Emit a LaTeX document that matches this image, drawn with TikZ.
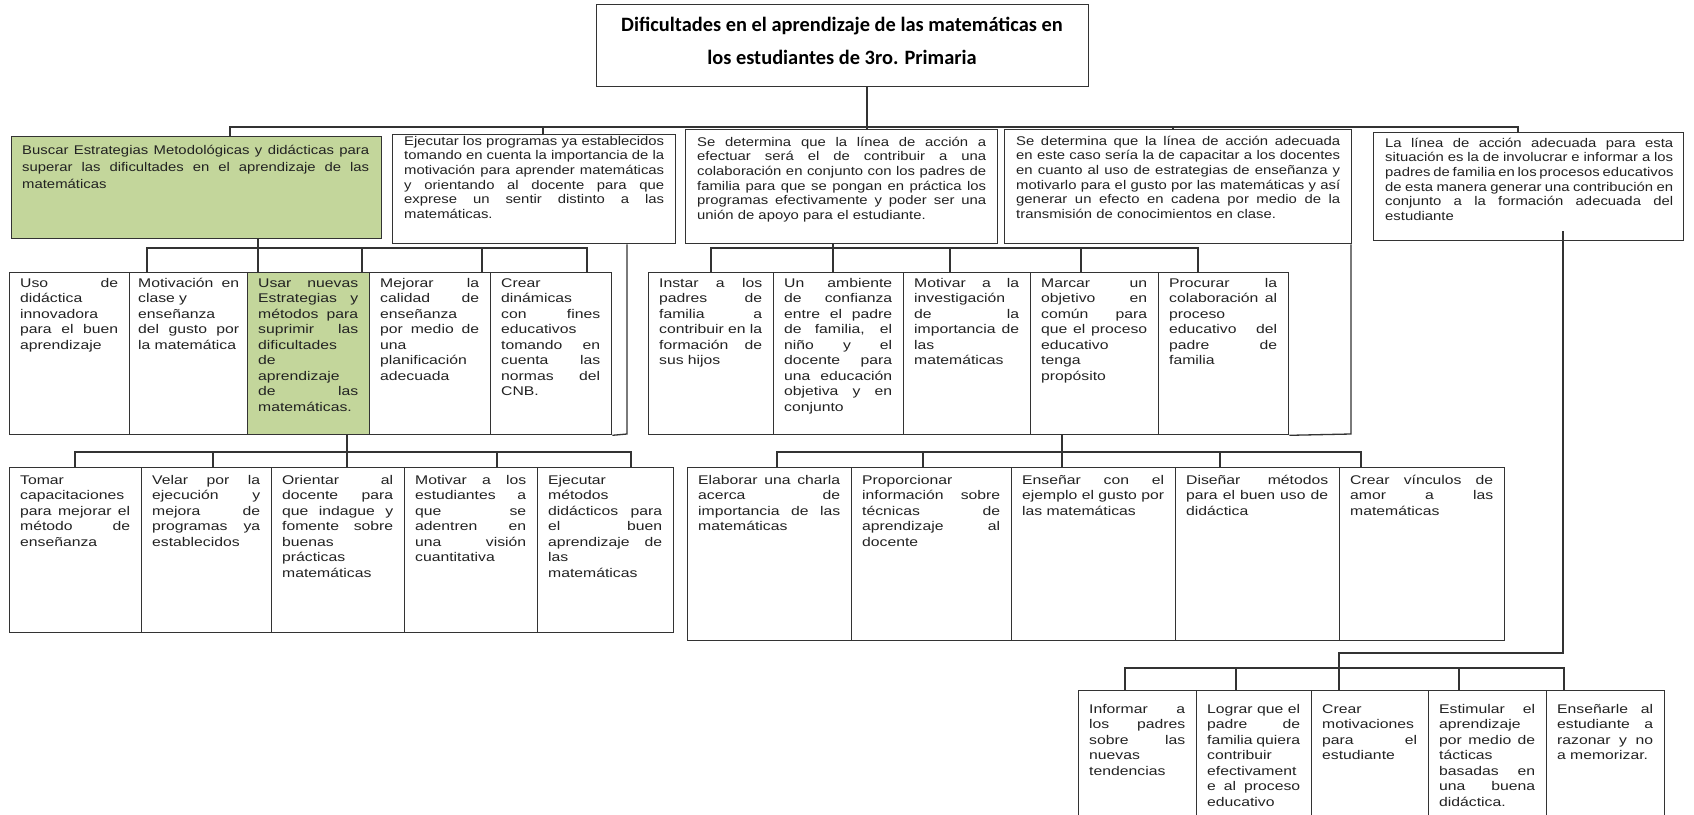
\documentclass[tikz,border=0pt]{standalone}
\usepackage{fontspec}
\setmainfont{Liberation Sans}
\newfontfamily\fa{Liberation Sans}[FakeStretch=1.18]
\newfontfamily\fb{Liberation Sans}[FakeStretch=1.25]
\newfontfamily\ttl{Carlito}
\usetikzlibrary{calc}
\definecolor{grn}{HTML}{C3D69B}
\definecolor{ln}{HTML}{333333}
\definecolor{tx}{HTML}{222222}
\newcommand\jl[1]{\makebox[\linewidth][s]{\spaceskip=0pt\xspaceskip=0pt\relax #1}\\}
\begin{document}
\begin{tikzpicture}[x=1pt,y=-1pt,
  box/.style={draw=ln, line width=1.3pt, inner sep=0pt, anchor=north west, fill=white},
  con/.style={draw=ln, line width=1.3pt},
  ttxt/.style={anchor=base, inner sep=0pt, text=black, font=\ttl\bfseries\fontsize{20.4}{25}\selectfont},
  tg/.style={anchor=north west, inner sep=0pt, align=left, text=tx, font=\fa\fontsize{12.6}{16.7}\selectfont},
  ta/.style={anchor=north west, inner sep=0pt, align=left, text=tx, font=\fa\fontsize{12.6}{14.6}\selectfont},
  tb/.style={anchor=north west, inner sep=0pt, align=left, text=tx, font=\fb\fontsize{12.6}{15.5}\selectfont}]
\useasboundingbox (0,0) rectangle (1694,814);
\clip (0,0) rectangle (1694,814);
\fill[white] (0,0) rectangle (1694,814);

% ---------- title
\node[box, minimum width=492, minimum height=82] (title) at (596,4) {};
\node[ttxt] (tt1) at (842,31) {Dificultades en el aprendizaje de las matemáticas en};
\node[ttxt] (tt2) at (842,64) {los estudiantes de 3ro. Primaria};

% ---------- row 1
\node[box, fill=grn, minimum width=370, minimum height=102] (green) at (11,136) {};
\node[box, minimum width=283, minimum height=109] (ejec) at (392,134) {};
\node[box, minimum width=312, minimum height=114] (sea) at (685,129) {};
\node[box, minimum width=347, minimum height=114] (sead) at (1004,129) {};
\node[box, minimum width=310, minimum height=108] (lin) at (1373,132) {};

\node[tg, text width=347] (greent) at (22,142.8) {\jl{\strut Buscar Estrategias Metodológicas y didácticas para}\jl{superar las dificultades en el aprendizaje de las}matemáticas};
\node[ta, text width=260] (eject) at (404,134.8) {\jl{\strut Ejecutar los programas ya establecidos}\jl{tomando en cuenta la importancia de la}\jl{motivación para aprender matemáticas}\jl{y orientando al docente para que}\jl{exprese un sentir distinto a las}matemáticas.};
\node[ta, text width=289] (seat) at (697,135.8) {\jl{\strut Se determina que la línea de acción a}\jl{efectuar será el de contribuir a una}\jl{colaboración en conjunto con los padres de}\jl{familia para que se pongan en práctica los}\jl{programas efectivamente y poder ser una}unión de apoyo para el estudiante.};
\node[ta, text width=324] (seadt) at (1016,134.8) {\jl{\strut Se determina que la línea de acción adecuada}\jl{en este caso sería la de capacitar a los docentes}\jl{en cuanto al uso de estrategias de enseñanza y}\jl{motivarlo para el gusto por las matemáticas y así}\jl{generar un efecto en cadena por medio de la}transmisión de conocimientos en clase.};
\node[ta, text width=288] (lint) at (1385,136.8) {\jl{\strut La línea de acción adecuada para esta}\jl{situación es la de involucrar e informar a los}\jl{padres de familia en los procesos educativos}\jl{de esta manera generar una contribución en}\jl{conjunto a la formación adecuada del}estudiante};

% ---------- row 2 left
\node[box, minimum width=120, minimum height=162] (a1) at (9,272) {};
\node[box, minimum width=118, minimum height=162] (a2) at (129,272) {};
\node[box, fill=grn, minimum width=122, minimum height=162] (a3) at (247,272) {};
\node[box, minimum width=121, minimum height=162] (a4) at (369,272) {};
\node[box, minimum width=121, minimum height=162] (a5) at (490,272) {};
\node[tb, text width=98] (a1t) at (20,276) {\jl{\strut Uso de}didáctica\\innovadora\\\jl{para el buen}aprendizaje};
\node[tb, text width=101] (a2t) at (138,276) {\jl{\strut Motivación en}clase y\\enseñanza\\\jl{del gusto por}\mbox{la matemática}};
\node[tb, text width=100] (a3t) at (258,276) {\jl{\strut Usar nuevas}\jl{Estrategias y}\jl{métodos para}\jl{suprimir las}dificultades\\de\\aprendizaje\\\jl{de las}matemáticas.};
\node[tb, text width=99] (a4t) at (380,276) {\jl{\strut Mejorar la}\jl{calidad de}enseñanza\\\jl{por medio de}una\\planificación\\adecuada};
\node[tb, text width=99] (a5t) at (501,276) {\strut Crear\\dinámicas\\\jl{con fines}educativos\\\jl{tomando en}\jl{cuenta las}\jl{normas del}CNB.};

% ---------- row 2 right
\node[box, minimum width=125, minimum height=162] (b1) at (648,272) {};
\node[box, minimum width=130, minimum height=162] (b2) at (773,272) {};
\node[box, minimum width=127, minimum height=162] (b3) at (903,272) {};
\node[box, minimum width=128, minimum height=162] (b4) at (1030,272) {};
\node[box, minimum width=130, minimum height=162] (b5) at (1158,272) {};
\node[tb, text width=103] (b1t) at (659,276) {\jl{\strut Instar a los}\jl{padres de}\jl{familia a}\jl{contribuir en la}\jl{formación de}sus hijos};
\node[tb, text width=108] (b2t) at (784,276) {\jl{\strut Un ambiente}\jl{de confianza}\jl{entre el padre}\jl{de familia, el}\jl{niño y el}\jl{docente para}\jl{una educación}\jl{objetiva y en}conjunto};
\node[tb, text width=105] (b3t) at (914,276) {\jl{\strut Motivar a la}investigación\\\jl{de la}\jl{importancia de}las\\matemáticas};
\node[tb, text width=106] (b4t) at (1041,276) {\jl{\strut Marcar un}\jl{objetivo en}\jl{común para}\jl{que el proceso}educativo\\tenga\\propósito};
\node[tb, text width=108] (b5t) at (1169,276) {\jl{\strut Procurar la}\jl{colaboración al}proceso\\\jl{educativo del}\jl{padre de}familia};

% ---------- row 3 left
\node[box, minimum width=132, minimum height=165] (c1) at (9,467) {};
\node[box, minimum width=130, minimum height=165] (c2) at (141,467) {};
\node[box, minimum width=133, minimum height=165] (c3) at (271,467) {};
\node[box, minimum width=133, minimum height=165] (c4) at (404,467) {};
\node[box, minimum width=136, minimum height=165] (c5) at (537,467) {};
\node[tb, text width=110] (c1t) at (20,473) {\strut Tomar\\capacitaciones\\\jl{para mejorar el}\jl{método de}enseñanza};
\node[tb, text width=108] (c2t) at (152,473) {\jl{\strut Velar por la}\jl{ejecución y}\jl{mejora de}\jl{programas ya}establecidos};
\node[tb, text width=111] (c3t) at (282,473) {\jl{\strut Orientar al}\jl{docente para}\jl{que indague y}\jl{fomente sobre}buenas\\prácticas\\matemáticas};
\node[tb, text width=111] (c4t) at (415,473) {\jl{\strut Motivar a los}\jl{estudiantes a}\jl{que se}\jl{adentren en}\jl{una visión}cuantitativa};
\node[tb, text width=114] (c5t) at (548,473) {\strut Ejecutar\\métodos\\\jl{didácticos para}\jl{el buen}\jl{aprendizaje de}las\\matemáticas};

% ---------- row 3 right
\node[box, minimum width=164, minimum height=173] (d1) at (687,467) {};
\node[box, minimum width=160, minimum height=173] (d2) at (851,467) {};
\node[box, minimum width=164, minimum height=173] (d3) at (1011,467) {};
\node[box, minimum width=164, minimum height=173] (d4) at (1175,467) {};
\node[box, minimum width=165, minimum height=173] (d5) at (1339,467) {};
\node[tb, text width=142] (d1t) at (698,473) {\jl{\strut Elaborar una charla}\jl{acerca de}\jl{importancia de las}matemáticas};
\node[tb, text width=138] (d2t) at (862,473) {\strut Proporcionar\\\jl{información sobre}\jl{técnicas de}\jl{aprendizaje al}docente};
\node[tb, text width=142] (d3t) at (1022,473) {\jl{\strut Enseñar con el}\jl{ejemplo el gusto por}las matemáticas};
\node[tb, text width=142] (d4t) at (1186,473) {\jl{\strut Diseñar métodos}\jl{para el buen uso de}didáctica};
\node[tb, text width=143] (d5t) at (1350,473) {\jl{\strut Crear vínculos de}\jl{amor a las}matemáticas};

% ---------- row 4
\node[box, minimum width=118, minimum height=140] (e1) at (1078,690) {};
\node[box, minimum width=115, minimum height=140] (e2) at (1196,690) {};
\node[box, minimum width=117, minimum height=140] (e3) at (1311,690) {};
\node[box, minimum width=118, minimum height=140] (e4) at (1428,690) {};
\node[box, minimum width=118, minimum height=140] (e5) at (1546,690) {};
\node[tb, text width=96] (e1t) at (1089,702) {\jl{\strut Informar a}\jl{los padres}\jl{sobre las}nuevas\\tendencias};
\node[tb, text width=93] (e2t) at (1207,702) {\jl{\strut Lograr que el}\jl{padre de}\jl{familia quiera}contribuir\\efectivament\\\jl{e al proceso}educativo};
\node[tb, text width=95] (e3t) at (1322,702) {\strut Crear\\motivaciones\\\jl{para el}estudiante};
\node[tb, text width=96] (e4t) at (1439,702) {\jl{\strut Estimular el}aprendizaje\\\jl{por medio de}tácticas\\\jl{basadas en}\jl{una buena}didáctica.};
\node[tb, text width=96] (e5t) at (1557,702) {\jl{\strut Enseñarle al}\jl{estudiante a}\jl{razonar y no}a memorizar.};

% ---------- connectors: top level
\coordinate (T1) at (230,127);
\coordinate (T2) at (1518,127);
\coordinate (TX) at (867,127);
\coordinate (EX) at (543,127);
\coordinate (AX) at (1173,127);
\draw[con] (title.south -| TX) -- (sea.north -| TX);
\draw[con] (green.north -| T1) -- (T1) -- (T2) -- (lin.north -| T2);
\draw[con] (ejec.north -| EX) -- (EX);
\draw[con] (sead.north -| AX) -- (AX);

% row 2 left
\coordinate (L1) at (147,248);
\coordinate (L2) at (258,248);
\coordinate (L3) at (362,248);
\coordinate (L4) at (482,248);
\coordinate (L5) at (587,248);
\draw[con] (green.south -| L2) -- (L2);
\draw[con] (a1.north -| L1) -- (L1) -- (L5) -- (a1.north -| L5);
\foreach \p in {L2,L3,L4} \draw[con] (\p) -- (a1.north -| \p);
\coordinate (EJ) at (627,434);
\draw[con] (ejec.south -| EJ) -- (EJ) -- (a5.south east);

% row 2 right
\coordinate (R1) at (711,248);
\coordinate (R2) at (833,248);
\coordinate (R3) at (950,248);
\coordinate (R4) at (1081,248);
\coordinate (R5) at (1198,248);
\draw[con] (sea.south -| R2) -- (R2);
\draw[con] (b1.north -| R1) -- (R1) -- (R5) -- (b1.north -| R5);
\foreach \p in {R2,R3,R4} \draw[con] (\p) -- (b1.north -| \p);
\coordinate (AD) at (1351,434);
\draw[con] (sead.south -| AD) -- (AD) -- (b5.south east);

% row 3 left
\coordinate (M1) at (75,452);
\coordinate (M2) at (213,452);
\coordinate (M3) at (347,452);
\coordinate (M4) at (497,452);
\coordinate (M5) at (631,452);
\draw[con] (a3.south -| M3) -- (M3);
\draw[con] (c1.north -| M1) -- (M1) -- (M5) -- (c1.north -| M5);
\foreach \p in {M2,M3,M4} \draw[con] (\p) -- (c1.north -| \p);

% row 3 right
\coordinate (N1) at (777,452);
\coordinate (N2) at (923,452);
\coordinate (N3) at (1062,452);
\coordinate (N4) at (1220,452);
\coordinate (N5) at (1361,452);
\draw[con] (b4.south -| N3) -- (N3);
\draw[con] (d1.north -| N1) -- (N1) -- (N5) -- (d1.north -| N5);
\foreach \p in {N2,N3,N4} \draw[con] (\p) -- (d1.north -| \p);

% row 4
\coordinate (LC) at (1563,653);
\coordinate (LB) at (1339,653);
\coordinate (P1) at (1125,668);
\coordinate (P2) at (1236,668);
\coordinate (P3) at (1339,668);
\coordinate (P4) at (1459,668);
\coordinate (P5) at (1564,668);
\draw[con] ($(lin.south -| LC)+(0,-10)$) -- (LC) -- (LB) -- (P3);
\draw[con] (e1.north -| P1) -- (P1) -- (P5) -- (e1.north -| P5);
\foreach \p in {P2,P3,P4} \draw[con] (\p) -- (e1.north -| \p);
\end{tikzpicture}
\end{document}
